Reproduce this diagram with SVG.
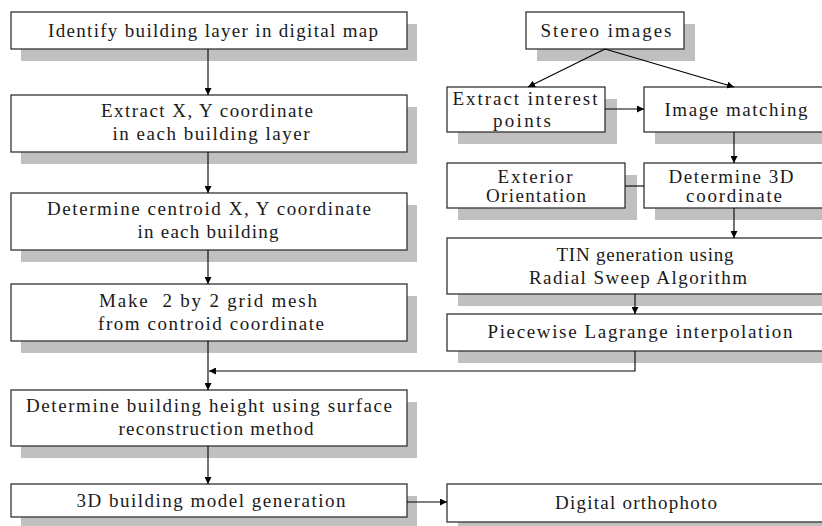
<svg xmlns="http://www.w3.org/2000/svg" width="822" height="526" viewBox="0 0 822 526">
  <style>
    .shadow { fill: #c0c0c0; stroke: none; }
    .box { fill: #ffffff; stroke: #333333; stroke-width: 1.3; }
    .label { font-family: "Liberation Serif", "DejaVu Serif", serif; font-size: 19px; fill: #1a1a1a; text-anchor: middle; }
    .link { fill: none; stroke: #000000; stroke-width: 1.1; }
  </style>
  <defs>
    <marker id="arrow" viewBox="0 0 10 10" refX="10" refY="5" markerWidth="7" markerHeight="7" markerUnits="userSpaceOnUse" orient="auto">
      <path d="M0,0 L10,5 L0,10 Z" fill="#000000"/>
    </marker>
  </defs>
  <rect width="822" height="526" fill="#ffffff"/>

  <!-- left column: map-based building workflow -->
  <g id="identify-layer">
    <rect class="shadow" x="21" y="24" width="396" height="37"/>
    <rect class="box" x="11" y="12" width="396" height="37"/>
    <text class="label" x="213" y="37" textLength="330" lengthAdjust="spacing">Identify building layer in digital map</text>
  </g>
  <g id="extract-xy">
    <rect class="shadow" x="21" y="107" width="396" height="57"/>
    <rect class="box" x="11" y="95" width="396" height="57"/>
    <text class="label" x="207" y="117" textLength="212" lengthAdjust="spacing">Extract X, Y coordinate</text>
    <text class="label" x="211" y="140" textLength="197" lengthAdjust="spacing">in each building layer</text>
  </g>
  <g id="centroid">
    <rect class="shadow" x="21" y="205" width="396" height="57"/>
    <rect class="box" x="11" y="193" width="396" height="57"/>
    <text class="label" x="209" y="215" textLength="324" lengthAdjust="spacing">Determine centroid X, Y coordinate</text>
    <text class="label" x="208" y="238" textLength="141" lengthAdjust="spacing">in each building</text>
  </g>
  <g id="grid-mesh">
    <rect class="shadow" x="21" y="296" width="396" height="57"/>
    <rect class="box" x="11" y="284" width="396" height="57"/>
    <text class="label" x="208" y="307" textLength="218" lengthAdjust="spacing" xml:space="preserve">Make  2 by 2 grid mesh</text>
    <text class="label" x="211" y="330" textLength="226" lengthAdjust="spacing">from controid coordinate</text>
  </g>
  <g id="building-height">
    <rect class="shadow" x="21" y="402" width="396" height="56"/>
    <rect class="box" x="11" y="390" width="396" height="56"/>
    <text class="label" x="209" y="412" textLength="366" lengthAdjust="spacing">Determine building height using surface</text>
    <text class="label" x="216" y="435" textLength="195" lengthAdjust="spacing">reconstruction method</text>
  </g>
  <g id="model-generation">
    <rect class="shadow" x="21" y="496" width="396" height="33"/>
    <rect class="box" x="11" y="484" width="396" height="33"/>
    <text class="label" x="211" y="507" textLength="269" lengthAdjust="spacing">3D building model generation</text>
  </g>

  <!-- right column: stereo image workflow -->
  <g id="stereo-images">
    <rect class="shadow" x="537" y="24" width="158" height="37"/>
    <rect class="box" x="526" y="12" width="158" height="37"/>
    <text class="label" x="606" y="37" textLength="131" lengthAdjust="spacing">Stereo images</text>
  </g>
  <g id="interest-points">
    <rect class="shadow" x="458" y="99" width="159" height="45"/>
    <rect class="box" x="447" y="87" width="158" height="45"/>
    <text class="label" x="525" y="105" textLength="145" lengthAdjust="spacing">Extract interest</text>
    <text class="label" x="522" y="127" textLength="58" lengthAdjust="spacing">points</text>
  </g>
  <g id="image-matching">
    <rect class="shadow" x="655" y="99" width="200" height="45"/>
    <rect class="box" x="644" y="87" width="200" height="45"/>
    <text class="label" x="736" y="116" textLength="143" lengthAdjust="spacing">Image matching</text>
  </g>
  <g id="exterior-orientation">
    <rect class="shadow" x="458" y="175" width="179" height="45"/>
    <rect class="box" x="447" y="163" width="178" height="45"/>
    <text class="label" x="535" y="183" textLength="75" lengthAdjust="spacing">Exterior</text>
    <text class="label" x="536" y="202" textLength="100" lengthAdjust="spacing">Orientation</text>
  </g>
  <g id="coordinate-3d">
    <rect class="shadow" x="655" y="175" width="200" height="45"/>
    <rect class="box" x="644" y="163" width="200" height="45"/>
    <text class="label" x="731" y="183" textLength="125" lengthAdjust="spacing">Determine 3D</text>
    <text class="label" x="734" y="202" textLength="96" lengthAdjust="spacing">coordinate</text>
  </g>
  <g id="tin-generation">
    <rect class="shadow" x="458" y="250" width="400" height="56"/>
    <rect class="box" x="447" y="238" width="400" height="56"/>
    <text class="label" x="645" y="261" textLength="177" lengthAdjust="spacing">TIN generation using</text>
    <text class="label" x="638" y="284" textLength="218" lengthAdjust="spacing">Radial Sweep Algorithm</text>
  </g>
  <g id="lagrange">
    <rect class="shadow" x="458" y="326" width="400" height="37"/>
    <rect class="box" x="447" y="314" width="400" height="37"/>
    <text class="label" x="640" y="338" textLength="305" lengthAdjust="spacing">Piecewise Lagrange interpolation</text>
  </g>
  <g id="orthophoto">
    <rect class="shadow" x="458" y="496" width="400" height="38"/>
    <rect class="box" x="447" y="484" width="400" height="38"/>
    <text class="label" x="636" y="509" textLength="162" lengthAdjust="spacing">Digital orthophoto</text>
  </g>

  <!-- connectors -->
  <g id="connectors">
    <line class="link" x1="208" y1="49" x2="208" y2="95" marker-end="url(#arrow)"/>
    <line class="link" x1="208" y1="152" x2="208" y2="193" marker-end="url(#arrow)"/>
    <line class="link" x1="208" y1="250" x2="208" y2="284" marker-end="url(#arrow)"/>
    <line class="link" x1="208" y1="341" x2="208" y2="390" marker-end="url(#arrow)"/>
    <line class="link" x1="208" y1="446" x2="208" y2="484" marker-end="url(#arrow)"/>
    <line class="link" x1="407" y1="502" x2="447" y2="502" marker-end="url(#arrow)"/>
    <line class="link" x1="605" y1="49" x2="528" y2="87" marker-end="url(#arrow)"/>
    <line class="link" x1="605" y1="49" x2="734" y2="87" marker-end="url(#arrow)"/>
    <line class="link" x1="605" y1="109" x2="644" y2="109" marker-end="url(#arrow)"/>
    <line class="link" x1="734" y1="132" x2="734" y2="163" marker-end="url(#arrow)"/>
    <line class="link" x1="625" y1="186" x2="644" y2="186"/>
    <line class="link" x1="734" y1="208" x2="734" y2="238" marker-end="url(#arrow)"/>
    <line class="link" x1="635" y1="294" x2="635" y2="314" marker-end="url(#arrow)"/>
    <polyline class="link" points="635,351 635,371 209,371" marker-end="url(#arrow)"/>
  </g>
</svg>
